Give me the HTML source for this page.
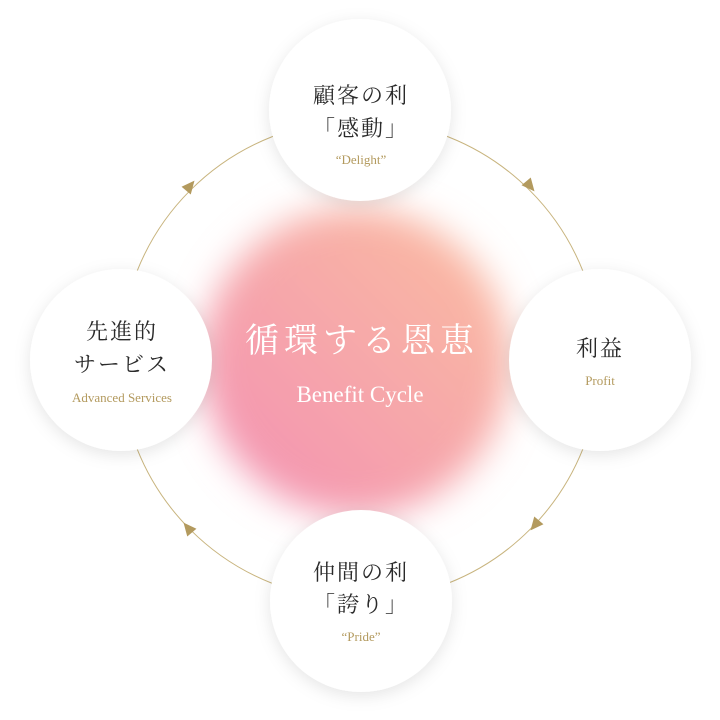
<!DOCTYPE html>
<html><head><meta charset="utf-8"><style>
html,body{margin:0;padding:0;background:#fff;width:720px;height:720px;overflow:hidden}
svg{display:block}
.jp{font-family:"Liberation Serif","Noto Serif CJK JP",serif;fill:#2a2a2a;font-size:22px;letter-spacing:2px}
.en{font-family:"Liberation Serif",serif;fill:#b39a5e;font-size:13px}
</style></head><body>
<svg width="720" height="720" viewBox="0 0 720 720" xmlns="http://www.w3.org/2000/svg">
<defs>
<linearGradient id="bg" x1="0" y1="1" x2="1" y2="0">
<stop offset="0" stop-color="#f28fb4"/><stop offset="1" stop-color="#fbbfa0"/>
</linearGradient>
<filter id="bl" x="-30%" y="-30%" width="160%" height="160%"><feGaussianBlur stdDeviation="18"/></filter>
<filter id="sh" x="-20%" y="-20%" width="140%" height="140%"><feDropShadow dx="0" dy="4" stdDeviation="8" flood-color="#000" flood-opacity="0.10"/></filter>
</defs>
<circle cx="360" cy="360" r="240" fill="none" stroke="#c8b47e" stroke-width="1"/>
<circle cx="356" cy="362" r="154" fill="url(#bg)" filter="url(#bl)"/>
<g fill="#b39a5e">
<polygon points="0,-7 6,6 -6,6" transform="translate(190,186) rotate(40)"/>
<polygon points="0,-7 6,6 -6,6" transform="translate(530,186) rotate(140)"/>
<polygon points="0,-7 6,6 -6,6" transform="translate(535,525) rotate(220)"/>
<polygon points="0,-7 6,6 -6,6" transform="translate(188,528) rotate(320)"/>
</g>
<g fill="#fff" filter="url(#sh)">
<circle cx="360" cy="110" r="91"/>
<circle cx="121" cy="360" r="91"/>
<circle cx="600" cy="360" r="91"/>
<circle cx="361" cy="601" r="91"/>
</g>
<g text-anchor="middle">
<text class="jp" x="361" y="103">顧客の利</text>
<text class="jp" x="361" y="136">「感動」</text>
<text class="en" x="361" y="164">“Delight”</text>
<text class="jp" x="122" y="339">先進的</text>
<text class="jp" x="122" y="372">サービス</text>
<text class="en" x="122" y="402">Advanced Services</text>
<text class="jp" x="600" y="356">利益</text>
<text class="en" x="600" y="385">Profit</text>
<text class="jp" x="361" y="580">仲間の利</text>
<text class="jp" x="361" y="612">「誇り」</text>
<text class="en" x="361" y="641">“Pride”</text>
<text x="362" y="352" font-family="'Liberation Serif','Noto Serif CJK JP',serif" font-size="34" fill="#fff" letter-spacing="5">循環する恩恵</text>
<text x="360" y="402" font-family="'Liberation Serif',serif" font-size="23" fill="#fff">Benefit Cycle</text>
</g>
</svg>
</body></html>
